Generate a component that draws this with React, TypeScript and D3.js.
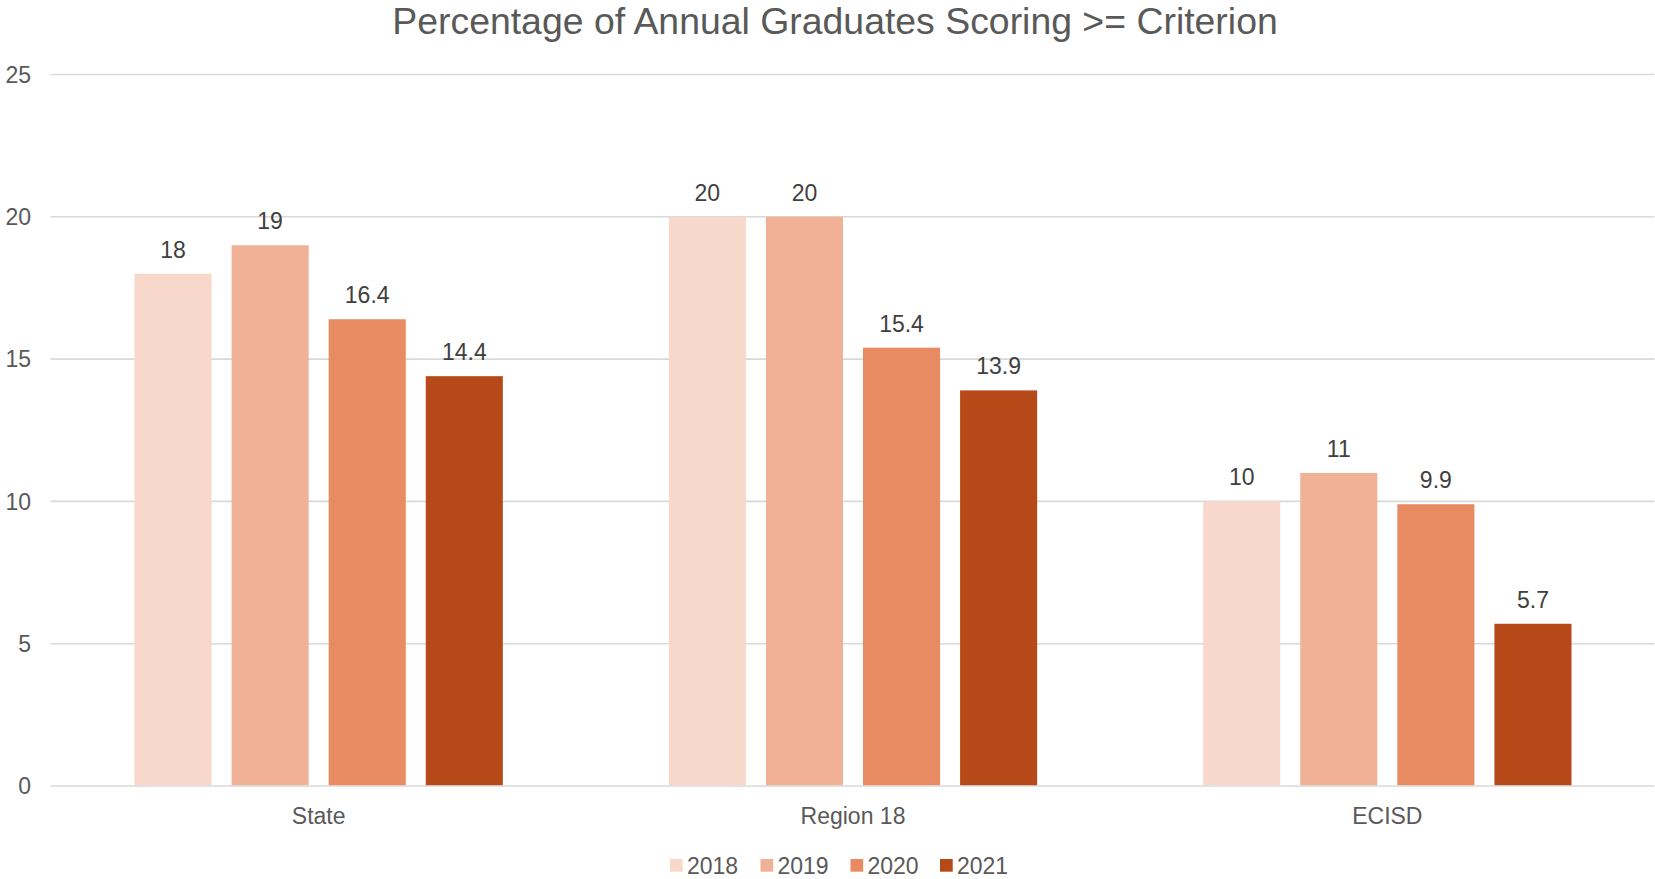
import React from "react";
import * as d3 from "d3";

const categories = ["State", "Region 18", "ECISD"];
const years = ["2018", "2019", "2020", "2021"];
const values2018 = [18, 20, 10];
const values2019 = [19, 20, 11];
const values2020 = [16.4, 15.4, 9.9];
const values2021 = [14.4, 13.9, 5.7];
const seriesValues = [values2018, values2019, values2020, values2021];
const yTicks = [0, 5, 10, 15, 20, 25];
const colors = ["#F8D8CB", "#F0B196", "#E88A62", "#B64918"];
const title = "Percentage of Annual Graduates Scoring >= Criterion";

const W = 1655;
const H = 879;
const plotLeft = 51.5;
const plotRight = 1654.5;
const plotTop = 74.5;
const plotBottom = 786;
const FONT = "'Liberation Sans', Arial, sans-serif";

export default function App() {
  const x0 = d3.scaleBand<string>().domain(categories).range([plotLeft, plotRight]).paddingInner(0).paddingOuter(0);
  const catW = x0.bandwidth();
  const groupPad = 83;
  const x1 = d3.scaleBand<string>().domain(years).range([groupPad, catW - groupPad]).paddingInner(0.206).paddingOuter(0);
  const y = d3.scaleLinear().domain([0, 25]).range([plotBottom, plotTop]);

  const legendX = [670, 760.5, 850.5, 940];

  return (
    <svg
      width={W}
      height={H}
      style={{ position: "absolute", left: 0, top: 0, background: "#fff" }}
      fontFamily={FONT}
    >
      <text x={835} y={34} textAnchor="middle" fontSize={37.4} fill="#595959">
        {title}
      </text>
      {yTicks.map((t) => (
        <g key={t}>
          <line x1={plotLeft - 1} x2={plotRight} y1={y(t)} y2={y(t)} stroke="#D9D9D9" strokeWidth={1.6} />
          <text x={31} y={y(t)} dy="0.36em" textAnchor="end" fontSize={23} fill="#595959">
            {t}
          </text>
        </g>
      ))}
      {categories.map((c, ci) => (
        <g key={c} transform={`translate(${x0(c)},0)`}>
          {years.map((yr, si) => {
            const v = seriesValues[si][ci];
            const bx = x1(yr) as number;
            const bw = x1.bandwidth();
            return (
              <g key={yr}>
                <rect x={bx} y={y(v)} width={bw} height={plotBottom - y(v) - 0.8} fill={colors[si]} />
                <text x={bx + bw / 2} y={y(v) - 16} textAnchor="middle" fontSize={23} fill="#404040">
                  {v}
                </text>
              </g>
            );
          })}
          <text x={catW / 2} y={824} textAnchor="middle" fontSize={23} fill="#595959">
            {c}
          </text>
        </g>
      ))}
      {years.map((yr, i) => (
        <g key={yr}>
          <rect x={legendX[i]} y={859} width={12.7} height={12.7} fill={colors[i]} />
          <text x={legendX[i] + 17} y={874} fontSize={23} fill="#595959">
            {yr}
          </text>
        </g>
      ))}
    </svg>
  );
}
